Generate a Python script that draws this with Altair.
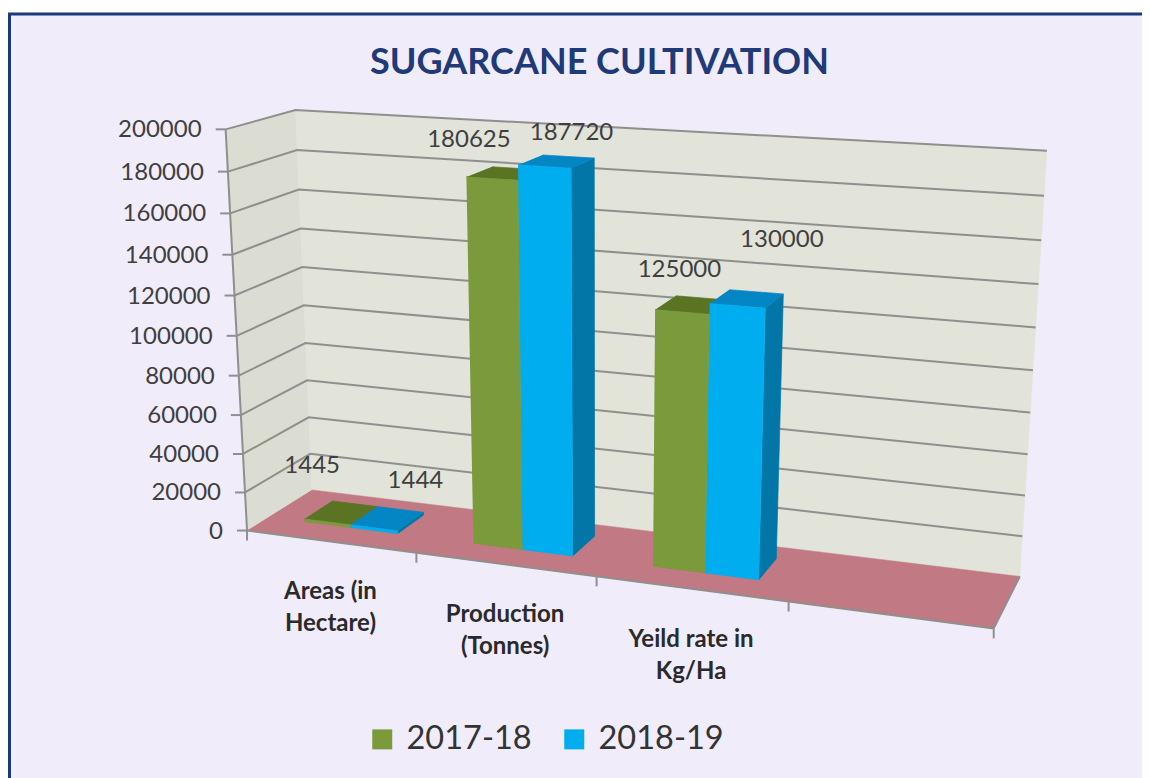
import altair as alt
import numpy as np
import pandas as pd

title_text = "SUGARCANE CULTIVATION"
categories = ["Areas (in\nHectare)", "Production\n(Tonnes)", "Yeild rate  in\nKg/Ha"]
series_names = ["2017-18", "2018-19"]
values_2017 = [1445, 180625, 125000]
values_2018 = [1444, 187720, 130000]
value_ticks = [0, 20000, 40000, 60000, 80000, 100000, 120000, 140000, 160000, 180000, 200000]
n_slots = 4
v_max = 200000

FONT = "Lato"
W, H = 1134, 770
SX = alt.Scale(domain=[8, 1142], range=[0, W], nice=False, zero=False)
SY = alt.Scale(domain=[778, 8], range=[H, 0], nice=False, zero=False)

# camera calibration of the 3-D box: (slot, depth, value share) -> page position
calib = [
    ((0, 0, 0), (246, 529)), ((0, 1, 0), (312, 490)), ((4, 1, 0), (1020, 576)), ((4, 0, 0), (993, 628)),
    ((0, 0, 1), (226, 129)), ((0, 1, 1), (295, 111)), ((4, 1, 1), (1047, 150)),
    ((1, 0, 0), (417, 553)), ((2, 0, 0), (598, 577)), ((3, 0, 0), (788, 603)),
]
A = []
for (u, d, v), (X, Y) in calib:
    A.append([u, d, v, 1, 0, 0, 0, 0, -X * u, -X * d, -X * v, -X])
    A.append([0, 0, 0, 0, u, d, v, 1, -Y * u, -Y * d, -Y * v, -Y])
P = np.linalg.svd(np.array(A, float))[2][-1].reshape(3, 4)


def proj(u, d, value):
    h = P @ np.array([u, d, value / v_max, 1.0])
    return float(h[0] / h[2]), float(h[1] / h[2])


def polygon_rows(rows, pid, colour, corners):
    for i, c in enumerate(corners):
        X, Y = proj(*c)
        rows.append({"px": X, "py": Y, "pid": pid, "i": i, "colour": colour})


def polygon_layer(rows, sw=0.7):
    enc = dict(
        x=alt.X("px:Q", scale=SX, axis=None),
        y=alt.Y("py:Q", scale=SY, axis=None),
        order=alt.Order("i:Q"),
        detail="pid:N",
        fill=alt.Fill("colour:N", scale=None),
        stroke=alt.Stroke("colour:N", scale=None),
    )
    return alt.Chart(pd.DataFrame(rows)).mark_line(strokeWidth=sw).encode(**enc)


# frame
frame = alt.Chart(pd.DataFrame([{"a": 9.5, "b": 1160, "c": 14, "d": 790}])).mark_rect(
    fill="#f1ecf9", stroke="#1b3a7e", strokeWidth=3
).encode(
    x=alt.X("a:Q", scale=SX, axis=None), x2="b:Q",
    y=alt.Y("c:Q", scale=SY, axis=None), y2="d:Q",
)

# walls and floor
wall_rows = []
polygon_rows(wall_rows, "left", "#dbdcd2", [(0, 0, 0), (0, 1, 0), (0, 1, v_max), (0, 0, v_max)])
polygon_rows(wall_rows, "back", "#e2e3d9", [(0, 1, 0), (4, 1, 0), (4, 1, v_max), (0, 1, v_max)])
polygon_rows(wall_rows, "floor", "#c17983", [(0, 0, 0), (4, 0, 0), (4, 1, 0), (0, 1, 0)])
walls = polygon_layer(wall_rows, 0.5)

# grid lines and box edges
grid_rows = []
for t in value_ticks[1:]:
    for i, c in enumerate([(0, 0, t), (0, 1, t), (n_slots, 1, t)]):
        X, Y = proj(*c)
        grid_rows.append({"px": X, "py": Y, "gid": f"g{t}", "i": i})
for gid, pts in {
    "edgeL": [(0, 0, 0), (0, 0, v_max)],
    "edgeF": [(0, 0, 0), (n_slots, 0, 0)],
    "edgeR": [(n_slots, 0, 0), (n_slots, 1, 0)],
}.items():
    for i, c in enumerate(pts):
        X, Y = proj(*c)
        grid_rows.append({"px": X, "py": Y, "gid": gid, "i": i})
grid = alt.Chart(pd.DataFrame(grid_rows)).mark_line(color="#8f8f8d", strokeWidth=2).encode(
    x=alt.X("px:Q", scale=SX, axis=None),
    y=alt.Y("py:Q", scale=SY, axis=None),
    order=alt.Order("i:Q"),
    detail="gid:N",
)

# tick marks
tick_rows = []
for t in value_ticks:
    X, Y = proj(0, 0, t)
    tick_rows.append({"a": X - 10, "b": X, "c": Y, "d": Y})
for s in range(n_slots + 1):
    X, Y = proj(s, 0, 0)
    tick_rows.append({"a": X, "b": X, "c": Y, "d": Y + 10})
ticks = alt.Chart(pd.DataFrame(tick_rows)).mark_rule(color="#8f8f8d", strokeWidth=2).encode(
    x=alt.X("a:Q", scale=SX, axis=None), x2="b:Q",
    y=alt.Y("c:Q", scale=SY, axis=None), y2="d:Q",
)

# bars
GAP, BW, D0, D1 = 0.22, 0.28, 0.32, 0.76
shades = {
    "2017-18": {"front": "#7a9a3c", "top": "#5a7424", "side": "#5f7a2a"},
    "2018-19": {"front": "#00aeef", "top": "#0586c4", "side": "#0276a6"},
}
bar_rows = []
front_rows = []
for c, (a_val, b_val) in enumerate(zip(values_2017, values_2018)):
    for k, (name, val) in enumerate(zip(series_names, (a_val, b_val))):
        u0 = c + GAP + k * BW
        u1 = u0 + BW
        pid = f"{c}-{k}"
        polygon_rows(bar_rows, pid + "s", shades[name]["side"], [(u1, D0, 0), (u1, D1, 0), (u1, D1, val), (u1, D0, val)])
        polygon_rows(bar_rows, pid + "t", shades[name]["top"], [(u0, D0, val), (u1, D0, val), (u1, D1, val), (u0, D1, val)])
        polygon_rows(front_rows, pid + "f", shades[name]["front"], [(u0, D0, 0), (u1, D0, 0), (u1, D0, val), (u0, D0, val)])
bars_back = polygon_layer(bar_rows)
bars_front = polygon_layer(front_rows)

# value-axis labels
axis_rows = []
for t in value_ticks:
    X, Y = proj(0, 0, t)
    axis_rows.append({"px": X - 24, "py": Y + 1, "label": str(t)})
axis_labels = alt.Chart(pd.DataFrame(axis_rows)).mark_text(
    font=FONT, fontSize=24, align="right", baseline="middle", color="#3f3f3f"
).encode(
    x=alt.X("px:Q", scale=SX, axis=None), y=alt.Y("py:Q", scale=SY, axis=None), text="label:N"
)

# category labels
cat_rows = []
for c, name in enumerate(categories):
    X, Y = proj(c + 0.5, 0, 0)
    cat_rows.append({"px": X, "py": Y + 51, "label": name})
cat_labels = alt.Chart(pd.DataFrame(cat_rows)).mark_text(
    font=FONT, fontSize=24, fontWeight="bold", align="center", baseline="middle",
    color="#2a2a2a", lineBreak="\n", lineHeight=32
).encode(
    x=alt.X("px:Q", scale=SX, axis=None), y=alt.Y("py:Q", scale=SY, axis=None), text="label:N"
)

# data labels
label_shift = {
    (0, 0): (-29, -47), (0, 1): (28, -37),
    (1, 0): (-36, -33), (1, 1): (15, -28),
    (2, 0): (-13, -35), (2, 1): (35, -59),
}
val_rows = []
for c, pair in enumerate(zip(values_2017, values_2018)):
    for k, val in enumerate(pair):
        u = c + GAP + (k + 0.5) * BW
        X, Y = proj(u, (D0 + D1) / 2, val)
        dx, dy = label_shift[(c, k)]
        val_rows.append({"px": X + dx, "py": Y + dy, "label": str(val)})
val_labels = alt.Chart(pd.DataFrame(val_rows)).mark_text(
    font=FONT, fontSize=24, align="center", baseline="middle", color="#3f3f3f"
).encode(
    x=alt.X("px:Q", scale=SX, axis=None), y=alt.Y("py:Q", scale=SY, axis=None), text="label:N"
)

# legend
legend_layer = alt.Chart(pd.DataFrame({"series": series_names, "px": [600, 600], "py": [400, 400]})).mark_square(
    size=0, opacity=0
).encode(
    x=alt.X("px:Q", scale=SX, axis=None),
    y=alt.Y("py:Q", scale=SY, axis=None),
    color=alt.Color(
        "series:N",
        scale=alt.Scale(domain=series_names, range=[shades[n]["front"] for n in series_names]),
        legend=alt.Legend(
            orient="none", legendX=358, legendY=715, direction="horizontal", title=None,
            symbolType="square", symbolSize=400, symbolOpacity=1, symbolStrokeWidth=0,
            labelFont=FONT, labelFontSize=32.5, labelColor="#333333", columnPadding=26,
            labelOffset=8, labelLimit=200,
        ),
    ),
)

chart = alt.layer(
    frame, walls, grid, ticks, bars_back, bars_front, axis_labels, cat_labels, val_labels, legend_layer
).properties(
    width=W, height=H, padding=0, autosize=alt.AutoSizeParams(type="none"), background="white",
    title=alt.TitleParams(
        title_text, font=FONT, fontSize=36, fontWeight="bold", color="#1f3a78",
        anchor="start", align="left", dx=362, offset=-74,
    ),
).configure_view(stroke=None)

chart.save("out.html", embed_options={"renderer": "svg", "actions": False})
